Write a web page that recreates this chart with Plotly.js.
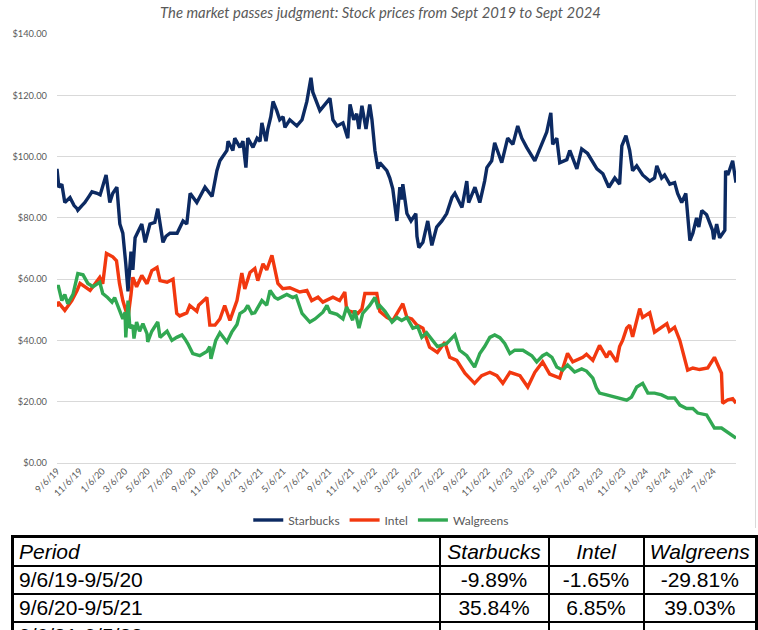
<!DOCTYPE html>
<html><head><meta charset="utf-8">
<script src="https://cdn.plot.ly/plotly-3.0.1.min.js"></script>
<style>
html,body{margin:0;padding:0;background:#fff;width:758px;height:630px;overflow:hidden;}
#chart{position:absolute;left:0;top:0;width:758px;height:533px;}
#frame{position:absolute;left:0;top:0;width:755px;height:528px;border-right:1px solid #d9d9d9;pointer-events:none;}
#tbl{position:absolute;left:11px;top:535px;border-collapse:collapse;table-layout:fixed;border:3px solid #000;font-family:"Liberation Sans",Arial,sans-serif;font-size:21px;color:#000;}
#tbl td{border:2px solid #000;padding:0 5px;height:26px;line-height:24px;white-space:nowrap;overflow:hidden;}
#tbl tr.hd td{font-style:italic;height:27px;}
#tbl td.num{text-align:center;padding:0 2px;}
</style>
</head><body>
<div id="chart"></div>
<div id="frame"></div>
<table id="tbl"><colgroup><col style="width:427px"><col style="width:109px"><col style="width:95px"><col style="width:113px"></colgroup><tbody id="tb"></tbody></table>
<script>
// ---- chart data ----
const sbuxDates = ['2019-09-06','2019-09-11','2019-09-19','2019-09-27','2019-10-11','2019-10-22','2019-10-30','2019-11-01','2019-11-12','2019-11-20','2019-12-01','2019-12-09','2019-12-23','2019-12-31','2020-01-16','2020-01-26','2020-02-03','2020-02-14','2020-02-22','2020-03-01','2020-03-09','2020-03-15','2020-03-23','2020-03-28','2020-04-03','2020-04-13','2020-04-21','2020-04-30','2020-05-13','2020-05-26','2020-06-03','2020-06-17','2020-06-25','2020-07-06','2020-07-25','2020-08-10','2020-08-20','2020-08-29','2020-09-16','2020-10-08','2020-10-27','2020-11-09','2020-11-17','2020-12-06','2020-12-09','2020-12-22','2020-12-27','2021-01-10','2021-01-18','2021-01-26','2021-01-31','2021-02-14','2021-02-25','2021-03-05','2021-03-10','2021-03-21','2021-03-26','2021-04-03','2021-04-09','2021-04-19','2021-04-27','2021-05-06','2021-05-11','2021-05-24','2021-06-12','2021-06-26','2021-07-09','2021-07-20','2021-07-25','2021-08-13','2021-08-26','2021-09-09','2021-09-17','2021-09-28','2021-10-14','2021-10-27','2021-11-02','2021-11-12','2021-11-20','2021-11-26','2021-12-04','2021-12-15','2021-12-25','2021-12-31','2022-01-08','2022-01-16','2022-01-21','2022-02-09','2022-02-17','2022-02-25','2022-03-08','2022-03-16','2022-03-21','2022-03-24','2022-04-04','2022-04-15','2022-04-28','2022-05-01','2022-05-06','2022-05-17','2022-05-30','2022-06-10','2022-06-23','2022-07-07','2022-07-20','2022-08-03','2022-08-11','2022-08-30','2022-09-12','2022-09-17','2022-10-04','2022-10-17','2022-10-30','2022-11-05','2022-11-18','2022-11-26','2022-12-15','2022-12-31','2023-01-14','2023-01-27','2023-02-07','2023-02-20','2023-03-14','2023-04-02','2023-04-15','2023-04-26','2023-05-01','2023-05-12','2023-05-20','2023-06-08','2023-06-16','2023-07-05','2023-07-18','2023-08-03','2023-08-17','2023-08-28','2023-09-13','2023-09-29','2023-10-15','2023-10-28','2023-11-03','2023-11-14','2023-11-24','2023-12-02','2023-12-13','2023-12-29','2024-01-17','2024-01-30','2024-02-05','2024-02-18','2024-02-26','2024-03-11','2024-03-24','2024-04-01','2024-04-12','2024-04-23','2024-05-04','2024-05-12','2024-05-22','2024-05-28','2024-06-05','2024-06-18','2024-07-04','2024-07-07','2024-07-15','2024-07-23','2024-08-06','2024-08-08','2024-08-14','2024-08-27','2024-09-05'];
const sbuxPrices = [96,90,91,85,86.6,84,83,82.5,84,85,87,88.5,88,87.5,94,85,88,90,78,75,65,56,69,63,73.5,76,78,72,78,78.5,83,72,74,75,75,79,78,88,85,90,87,95.4,98.6,102,105,102,106,103,105,96.4,106,103,106,105,111,105,109,113,118,115,112,113,109.5,112,110,112,118,125.7,121,115,117,119,112,110,111,106,117,112,114,109,116.6,109,117,112,102,96,98,95.4,93,89.5,79,90,86,91,81.4,79,81.4,74,70.3,72,79,71,77,79,81.4,86.6,88,83.4,92,85,90,85,92,96.4,98.6,104.5,98,106,104,110,106,103,98.6,104,108,114.3,104,106,98,99,102,96,102.5,101,98,96,94.4,90,93,91,103.5,106.8,102,95.4,97,94,92,93,97,93,94,91,91.5,88,85,88,72.6,75,80,77,82.4,81,75.9,73,78,73.5,76,95.4,94,98.6,91.5];

const intelDates = ['2019-09-06','2019-09-09','2019-09-27','2019-10-16','2019-10-30','2019-11-07','2019-12-04','2019-12-22','2019-12-30','2020-01-07','2020-01-17','2020-02-03','2020-02-13','2020-02-21','2020-03-01','2020-03-09','2020-03-15','2020-03-23','2020-03-28','2020-04-07','2020-04-21','2020-05-05','2020-05-18','2020-06-01','2020-06-09','2020-06-28','2020-07-14','2020-07-24','2020-08-01','2020-08-20','2020-08-28','2020-09-16','2020-09-21','2020-10-13','2020-10-21','2020-11-04','2020-11-17','2020-11-30','2020-12-14','2021-01-02','2021-01-15','2021-01-23','2021-02-06','2021-02-19','2021-02-27','2021-03-13','2021-03-23','2021-04-06','2021-04-14','2021-04-22','2021-05-05','2021-05-24','2021-06-20','2021-07-09','2021-07-22','2021-08-08','2021-08-21','2021-09-17','2021-10-05','2021-10-19','2021-10-24','2021-11-09','2021-11-23','2021-12-04','2021-12-12','2022-01-13','2022-01-21','2022-02-09','2022-02-25','2022-03-24','2022-04-04','2022-04-17','2022-05-01','2022-05-17','2022-06-04','2022-06-25','2022-07-15','2022-07-28','2022-08-16','2022-09-07','2022-10-03','2022-10-22','2022-11-13','2022-12-02','2022-12-18','2023-01-06','2023-02-02','2023-02-23','2023-03-14','2023-04-04','2023-04-23','2023-05-20','2023-06-02','2023-06-10','2023-06-24','2023-07-21','2023-07-31','2023-08-17','2023-09-04','2023-09-23','2023-10-01','2023-10-20','2023-10-28','2023-11-05','2023-11-16','2023-11-24','2023-12-02','2023-12-13','2023-12-21','2023-12-29','2024-01-17','2024-01-30','2024-02-18','2024-03-03','2024-03-10','2024-03-24','2024-04-07','2024-04-20','2024-04-28','2024-05-12','2024-05-30','2024-06-21','2024-07-09','2024-07-17','2024-07-28','2024-07-31','2024-08-14','2024-08-27','2024-09-05'];
const intelPrices = [51,52.5,49.8,53,56.3,58.6,56.3,59.6,60.6,58.5,68.4,67.3,66,58.6,53,49.8,47.5,55,60.6,57.5,61.2,58.5,62.8,63.8,59.5,59,60,48.8,48,49,51.4,49.5,51.5,54,45,45,47,51.4,46.5,53,62,56.8,62.2,63.5,59.5,65,63,67.8,63,58.6,56.9,57.2,55.8,56.3,53,54.1,52.5,54.1,53,55.8,49.8,49.2,48.8,50.3,55.3,55.3,49.5,47.5,46.5,52,47.5,47,45,44,37.8,36.1,39.4,34.5,33.5,29.3,26,28.5,29.6,28.5,26,29.6,28.5,24.8,29.6,33,29,27.7,32.3,35.8,33,34.5,35.5,33.5,38.4,34.5,36.5,33,38,40,44,45,41.2,46.5,50.4,47.5,49,42.7,44.3,45.5,43,44.3,40,34.5,30.3,31,30.5,31,34.5,32.3,29.3,19.5,20.6,21,19.5];

const walgDates = ['2019-09-06','2019-09-09','2019-09-19','2019-09-27','2019-10-05','2019-10-19','2019-11-01','2019-11-15','2019-11-28','2019-12-12','2019-12-30','2020-01-07','2020-01-20','2020-02-01','2020-02-08','2020-02-21','2020-03-01','2020-03-07','2020-03-09','2020-03-15','2020-03-20','2020-03-28','2020-03-31','2020-04-07','2020-04-15','2020-04-24','2020-05-05','2020-05-07','2020-05-18','2020-06-03','2020-06-09','2020-06-28','2020-07-11','2020-07-24','2020-08-07','2020-08-15','2020-08-23','2020-09-05','2020-09-24','2020-10-13','2020-10-21','2020-10-24','2020-11-06','2020-11-17','2020-12-06','2020-12-19','2021-01-02','2021-01-10','2021-01-23','2021-01-31','2021-02-11','2021-02-19','2021-03-10','2021-03-23','2021-04-01','2021-04-14','2021-04-22','2021-05-16','2021-06-01','2021-06-10','2021-06-26','2021-07-17','2021-07-31','2021-08-21','2021-09-01','2021-09-09','2021-09-28','2021-10-14','2021-10-24','2021-11-09','2021-11-15','2021-11-26','2021-12-06','2021-12-25','2022-01-08','2022-01-16','2022-01-21','2022-02-04','2022-02-23','2022-03-08','2022-03-21','2022-04-04','2022-04-20','2022-05-03','2022-05-14','2022-05-27','2022-06-12','2022-06-25','2022-07-20','2022-08-03','2022-08-11','2022-08-24','2022-09-12','2022-10-03','2022-10-17','2022-10-30','2022-11-13','2022-11-26','2022-12-10','2022-12-23','2023-01-06','2023-01-19','2023-02-10','2023-03-06','2023-03-19','2023-04-04','2023-04-15','2023-04-29','2023-05-12','2023-05-28','2023-06-10','2023-06-29','2023-07-18','2023-07-31','2023-08-17','2023-08-27','2023-09-04','2023-09-23','2023-10-07','2023-10-23','2023-11-16','2023-11-29','2023-12-13','2023-12-29','2024-01-12','2024-01-30','2024-02-18','2024-03-06','2024-03-24','2024-04-07','2024-04-25','2024-05-12','2024-05-25','2024-06-18','2024-07-01','2024-07-09','2024-07-28','2024-08-11','2024-08-24','2024-09-05'];
const walgPrices = [57,58,53,55,52,55,61.8,61.4,58.6,57.5,59,55.3,54,52.5,54,49.8,47,49.2,41,53,44,45,40.6,46,43,45.5,42.2,39.5,43,46,41,43,40,41,41.8,40.5,38.9,35.7,35,36.4,38,34,40,42.5,39.5,42.7,45.2,48.8,49.8,51.4,48.8,49,53,51.5,56.3,54,53.5,55,54,54.5,48.8,46,47,49.2,51.4,49.2,48.5,47,50.9,46.6,49.8,44,48.8,51.4,54,50.9,51.4,49.5,46,47.5,46.5,47.5,44,44.5,41,42.5,40,38,39,41,41.8,36.8,35,31.3,35.7,38,41,41.8,40.9,39,35.7,36.8,36.8,35,33,35,35.7,34.5,31.3,30.3,32,29.7,30.7,30,27.7,24.4,22.8,22.2,21.7,21.2,20.5,21.5,24.8,26,22.8,22.8,22.2,21.2,21.2,18.9,17.8,17.8,16.3,15.7,13,11.4,11.4,10.1,9,8.1];

const tickDates = ['2019-09-06','2019-11-06','2020-01-06','2020-03-06','2020-05-06','2020-07-06','2020-09-06','2020-11-06','2021-01-06','2021-03-06','2021-05-06','2021-07-06','2021-09-06','2021-11-06','2022-01-06','2022-03-06','2022-05-06','2022-07-06','2022-09-06','2022-11-06','2023-01-06','2023-03-06','2023-05-06','2023-07-06','2023-09-06','2023-11-06','2024-01-06','2024-03-06','2024-05-06','2024-07-06'];

// ---- table data ----
const tableHeader = ['Period','Starbucks','Intel','Walgreens'];
const periods = ['9/6/19-9/5/20','9/6/20-9/5/21','9/6/21-9/5/22'];
const sbuxReturns = ['-9.89%','35.84%',''];
const intelReturns = ['-1.65%','6.85%',''];
const walgReturns = ['-29.81%','39.03%',''];

const names = ['Starbucks','Intel','Walgreens'];
const colors = ['#0c2a62','#f2380f','#31a852'];
const series = [[sbuxDates,sbuxPrices],[intelDates,intelPrices],[walgDates,walgPrices]];

const traces = series.map((s,i)=>({
  type:'scatter', mode:'lines', name:names[i], x:s[0], y:s[1],
  line:{color:colors[i], width:3.4}, hoverinfo:'x+y'
}));

const gfont = {family:'Lato, "Open Sans", sans-serif', size:9.3, color:'#595959'};
const layout = {
  width:758, height:533,
  margin:{l:57, r:22, t:33.7, b:70},
  paper_bgcolor:'#ffffff', plot_bgcolor:'#ffffff',
  title:{text:'The market passes judgment: Stock prices from Sept 2019 to Sept 2024',
    font:{family:'Lato, "Open Sans", sans-serif', size:14.8, color:'#595959', style:'italic'},
    x:0.502, xref:'container', xanchor:'center', y:1-13/533, yref:'container', yanchor:'middle'},
  xaxis:{type:'date', range:[sbuxDates[0], sbuxDates[sbuxDates.length-1]], tickmode:'array', tickvals:tickDates,
    tickformat:'%-m/%-d/%y', tickangle:-45, showgrid:false, zeroline:false, showline:false, ticks:'',
    tickfont:gfont, fixedrange:true},
  yaxis:{range:[0,140], tick0:0, dtick:20, tickformat:'$.2f', showgrid:true, gridcolor:'#d9d9d9', gridwidth:1,
    zeroline:true, zerolinecolor:'#d9d9d9', zerolinewidth:1, showline:false, ticks:'',
    tickfont:gfont, ticklabelstandoff:9, fixedrange:true},
  showlegend:true,
  legend:{orientation:'h', x:0.503, xref:'container', xanchor:'center', y:1-520/533, yref:'container', yanchor:'middle',
    font:{family:'Lato, "Open Sans", sans-serif', size:12, color:'#595959'}, itemwidth:30, tracegroupgap:0},
  hovermode:false
};
Plotly.newPlot('chart', traces, layout, {displayModeBar:false, staticPlot:true});

// ---- build table ----
const tb = document.getElementById('tb');
function addRow(cells, cls){
  const tr = document.createElement('tr');
  if(cls) tr.className = cls;
  cells.forEach((c,j)=>{
    const td = document.createElement('td');
    td.textContent = c;
    if(j>0) td.className='num';
    tr.appendChild(td);
  });
  tb.appendChild(tr);
}
addRow(tableHeader,'hd');
periods.forEach((p,i)=>addRow([p, sbuxReturns[i], intelReturns[i], walgReturns[i]]));
</script>
</body></html>
